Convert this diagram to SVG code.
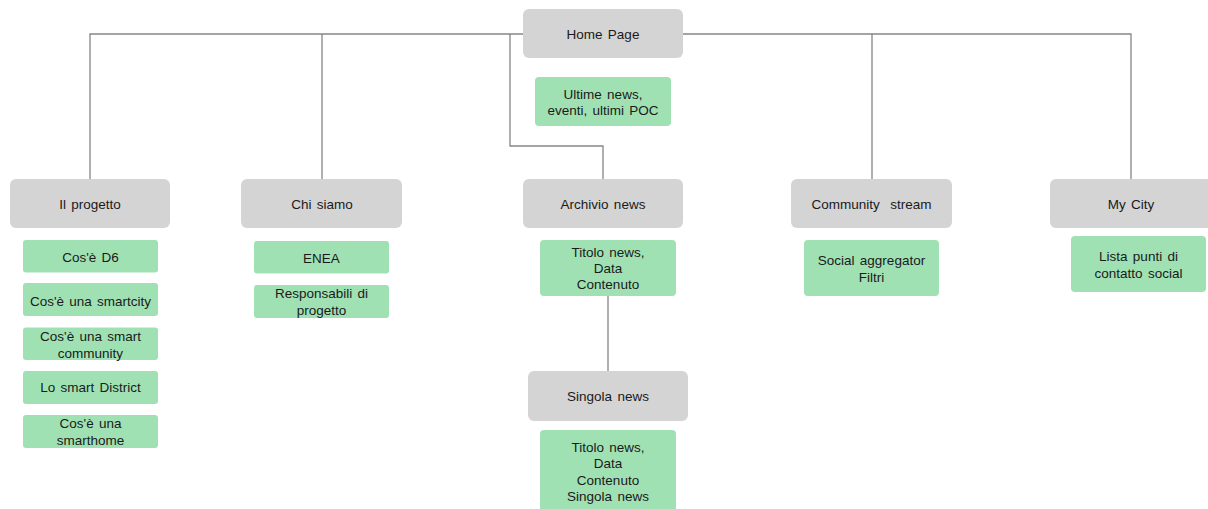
<svg xmlns="http://www.w3.org/2000/svg" width="1208" height="509" viewBox="0 0 1208 509">
<style>
.page{fill:#d4d4d4;}
.box{fill:#a0e1b3;}
.conn{fill:none;stroke:#868686;stroke-width:1.3;}
text{font-family:"Liberation Sans",Arial,sans-serif;font-size:13.5px;fill:#1a1a1a;text-anchor:middle;word-spacing:1.5px;}
</style>
<rect width="1208" height="509" fill="#ffffff"/>
<g id="connectors">
<path class="conn" d="M90,179 V34 H523"/>
<path class="conn" d="M322,34 V179"/>
<path class="conn" d="M510,34 V146 H603 V179"/>
<path class="conn" d="M683,34 H1131 V179"/>
<path class="conn" d="M872,34 V179"/>
<path class="conn" d="M608,296 V371"/>
</g>
<g id="home"><rect class="page" x="523" y="9" width="160" height="49" rx="6"/><text x="603" y="38.5">Home Page</text></g>
<g id="home-content"><rect class="box" x="535" y="77" width="136" height="49" rx="4"/><text x="603" y="98.5">Ultime news,</text><text x="603" y="115">eventi, ultimi POC</text></g>
<g id="progetto"><rect class="page" x="10" y="179" width="160" height="49" rx="6"/><text x="90" y="208.5">Il progetto</text></g>
<g id="cos-d6"><rect class="box" x="23" y="240" width="135" height="32.5" rx="3"/><text x="90.5" y="261.5">Cos'è D6</text></g>
<g id="cos-smartcity"><rect class="box" x="23" y="283" width="135" height="33" rx="3"/><text x="90.5" y="305.5">Cos'è una smartcity</text></g>
<g id="cos-community"><rect class="box" x="23" y="327.5" width="135" height="32.5" rx="3"/><text x="90.5" y="341">Cos'è una smart</text><text x="90.5" y="357.5">community</text></g>
<g id="smart-district"><rect class="box" x="23" y="371" width="135" height="33" rx="3"/><text x="90.5" y="392">Lo smart District</text></g>
<g id="cos-smarthome"><rect class="box" x="23" y="415" width="135" height="33" rx="3"/><text x="90.5" y="428">Cos'è una</text><text x="90.5" y="444.5">smarthome</text></g>
<g id="chi-siamo"><rect class="page" x="241" y="179" width="161" height="49" rx="6"/><text x="322" y="208.5">Chi siamo</text></g>
<g id="enea"><rect class="box" x="254" y="241" width="135" height="32.5" rx="3"/><text x="321.5" y="263">ENEA</text></g>
<g id="responsabili"><rect class="box" x="254" y="285" width="135" height="33" rx="3"/><text x="321.5" y="298">Responsabili di</text><text x="321.5" y="314.5">progetto</text></g>
<g id="archivio"><rect class="page" x="523" y="179" width="160" height="49" rx="6"/><text x="603" y="208.5">Archivio news</text></g>
<g id="archivio-content"><rect class="box" x="540" y="240" width="136" height="56" rx="4"/><text x="608" y="256.5">Titolo news,</text><text x="608" y="273">Data</text><text x="608" y="289">Contenuto</text></g>
<g id="singola"><rect class="page" x="528" y="371" width="160" height="50" rx="6"/><text x="608" y="401">Singola news</text></g>
<g id="singola-content"><rect class="box" x="540" y="430" width="136" height="82" rx="4"/><text x="608" y="451.5">Titolo news,</text><text x="608" y="468">Data</text><text x="608" y="484.5">Contenuto</text><text x="608" y="501">Singola news</text></g>
<g id="community"><rect class="page" x="791" y="179" width="161" height="49" rx="6"/><text x="871.5" y="208.5" xml:space="preserve">Community  stream</text></g>
<g id="community-content"><rect class="box" x="804" y="240" width="135" height="56" rx="4"/><text x="871.5" y="265">Social aggregator</text><text x="871.5" y="281.5">Filtri</text></g>
<g id="mycity"><rect class="page" x="1050" y="179" width="162" height="49" rx="6"/><text x="1131" y="208.5">My City</text></g>
<g id="mycity-content"><rect class="box" x="1071" y="236" width="135" height="56" rx="4"/><text x="1138.5" y="261">Lista punti di</text><text x="1138.5" y="277.5">contatto social</text></g>
</svg>
